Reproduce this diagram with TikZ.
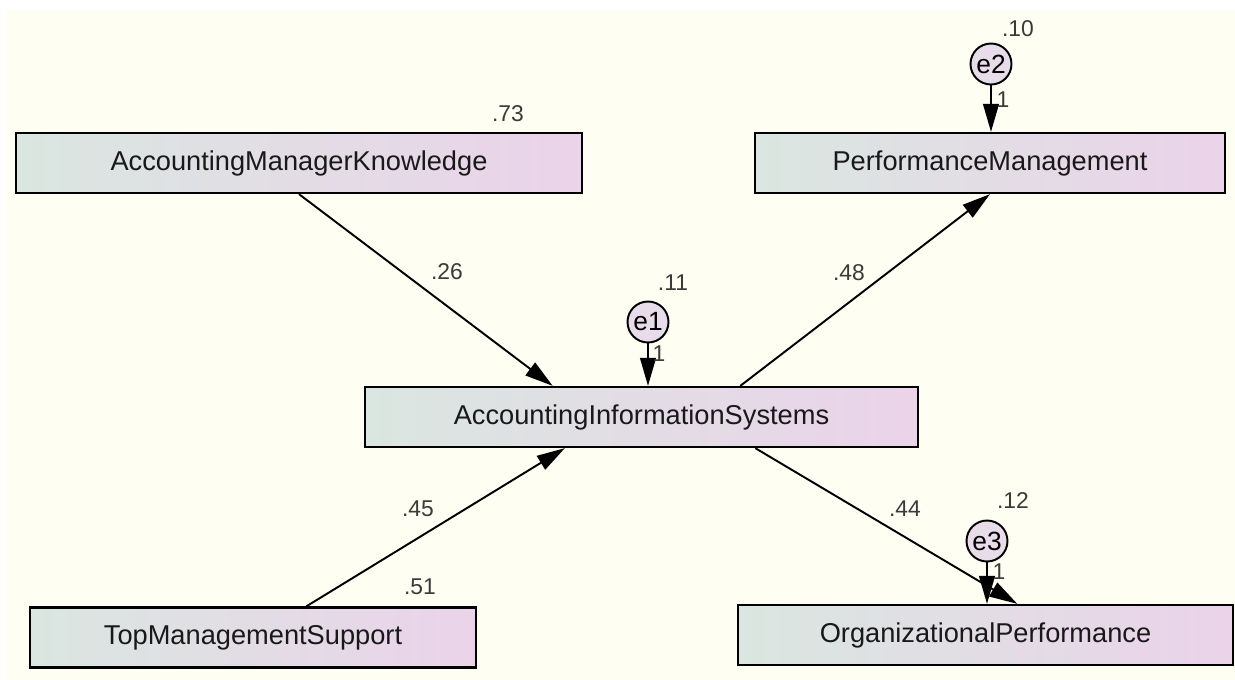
\documentclass[tikz,border=0pt]{standalone}
\usepackage{fontspec}
\setmainfont{Liberation Sans}
\usetikzlibrary{arrows.meta,calc}

\definecolor{canvas}{HTML}{FEFEF2}
\definecolor{boxleft}{HTML}{DAE6E0}
\definecolor{boxright}{HTML}{EBD3EA}
\definecolor{errfill}{HTML}{E9DCEA}
\definecolor{coefgray}{HTML}{3A3A3A}

\begin{document}
\begin{tikzpicture}[x=0.02cm, y=-0.02cm, >={Triangle[length=16pt,width=9pt]},
    var/.style={draw, line width=1.3pt, left color=boxleft, right color=boxright, minimum height=1.2cm, inner sep=0pt, text=black!90, font=\fontsize{15.5}{18}\selectfont},
    err/.style={draw, circle, line width=1.1pt, fill=errfill, minimum size=0.82cm, inner sep=0pt, font=\fontsize{15}{17}\selectfont},
    coef/.style={text=coefgray, inner sep=0pt, font=\fontsize{13}{15}\selectfont},
    reg/.style={->, line width=1.1pt}]
  \useasboundingbox (0,0) rectangle (1235,680);
  \fill[white] (0,0) rectangle (1235,680);
  \fill[canvas] (6,10) rectangle (1235,680);

  % observed variables
  \node[var, minimum width=11.32cm] (AMK) at (299,163) {AccountingManagerKnowledge};
  \node[var, minimum width=9.4cm] (PM) at (990,163) {PerformanceManagement};
  \node[var, minimum width=11.06cm] (AIS) at (641.5,417) {AccountingInformationSystems};
  \node[var, minimum width=8.92cm] (TMS) at (253,637.5) {TopManagementSupport};
  \node[var, minimum width=9.9cm] (OP) at (985.5,635) {OrganizationalPerformance};

  % error terms
  \node[err] (e1) at (648,322) {e1};
  \node[err] (e2) at (991,64) {e2};
  \node[err] (e3) at (987,541) {e3};

  % paths
  \draw[reg] (AMK.south) -- ($(AIS.north west)!0.34!(AIS.north east)$);
  \draw[reg] ($(AIS.north west)!0.678!(AIS.north east)$) -- (PM.south);
  \draw[reg] ($(TMS.north west)!0.619!(TMS.north east)$) -- ($(AIS.south west)!0.362!(AIS.south east)$);
  \draw[reg] ($(AIS.south west)!0.705!(AIS.south east)$) -- ($(OP.north west)!0.564!(OP.north east)$);
  \draw[reg] (e1.south) -- (e1.south |- AIS.north);
  \draw[reg] (e2.south) -- (e2.south |- PM.north);
  \draw[reg] (e3.south) -- (e3.south |- OP.north);

  % estimates
  \node[coef] (r73) at (508,114) {.73};
  \node[coef] (r10) at (1018,29) {.10};
  \node[coef] (r11) at (673,283) {.11};
  \node[coef] (r12) at (1013,501) {.12};
  \node[coef] (r51) at (420,587) {.51};
  \node[coef] (b26) at (447,272) {.26};
  \node[coef] (b48) at (849,273) {.48};
  \node[coef] (b45) at (418,509) {.45};
  \node[coef] (b44) at (905,509) {.44};
  \node[coef] (w1) at (659,354) {1};
  \node[coef] (w2) at (1003,100) {1};
  \node[coef] (w3) at (999,572) {1};
\end{tikzpicture}
\end{document}
